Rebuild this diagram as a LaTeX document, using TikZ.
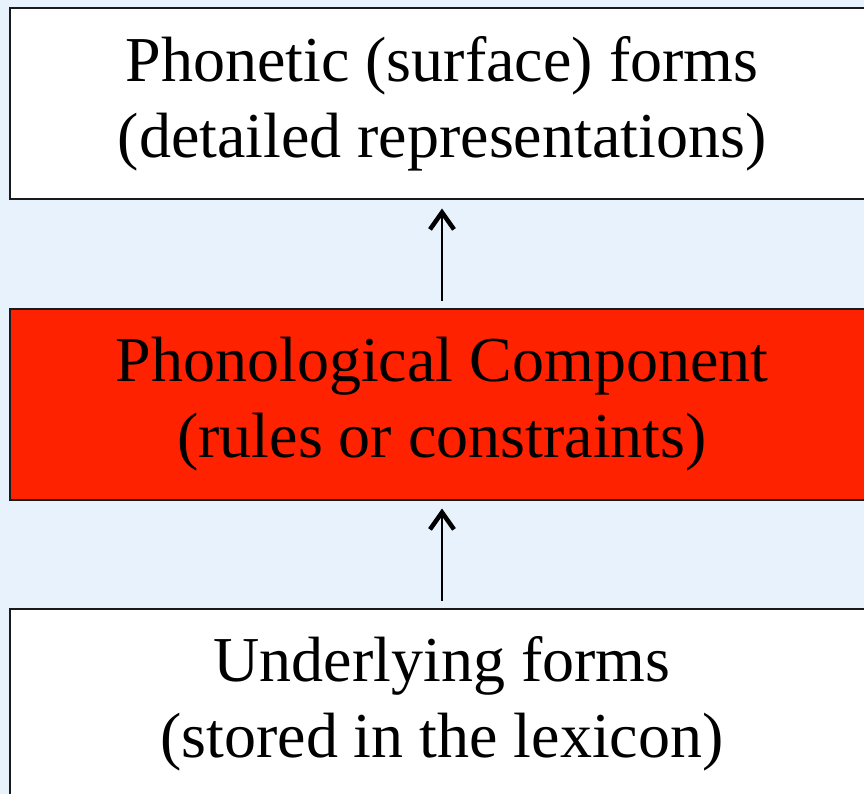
\documentclass[tikz,border=0pt]{standalone}
\usepackage{fontspec}
\setmainfont{Liberation Serif}
\usetikzlibrary{arrows.meta}
\definecolor{bgblue}{HTML}{E8F2FD}
\definecolor{compred}{HTML}{FF2200}
\definecolor{edgegray}{HTML}{1A1A1A}
\tikzset{
  layer/.style={draw=edgegray, line width=2pt, minimum width=864pt, minimum height=191pt,
    inner sep=0pt, align=center, font=\fontsize{64pt}{76pt}\selectfont, anchor=center},
  flow/.style={line width=2pt, -{Straight Barb[length=17pt,width=24pt,line width=4.5pt]},
    shorten <=7pt, shorten >=8pt}
}
\begin{document}
\begin{tikzpicture}[x=1pt,y=-1pt]
\useasboundingbox (0,0) rectangle (864,794);
\clip (0,0) rectangle (864,794);
\fill[bgblue] (0,0) rectangle (864,794);
\node[layer, fill=white] (surface) at (442,104) {Phonetic (surface) forms\\(detailed representations)};
\node[layer, fill=compred] (comp) at (442,404) {Phonological Component\\(rules or constraints)};
\node[layer, fill=white] (under) at (442,704) {Underlying forms\\(stored in the lexicon)};
\draw[flow] (comp.north) -- (surface.south);
\draw[flow] (under.north) -- (comp.south);
\end{tikzpicture}
\end{document}
